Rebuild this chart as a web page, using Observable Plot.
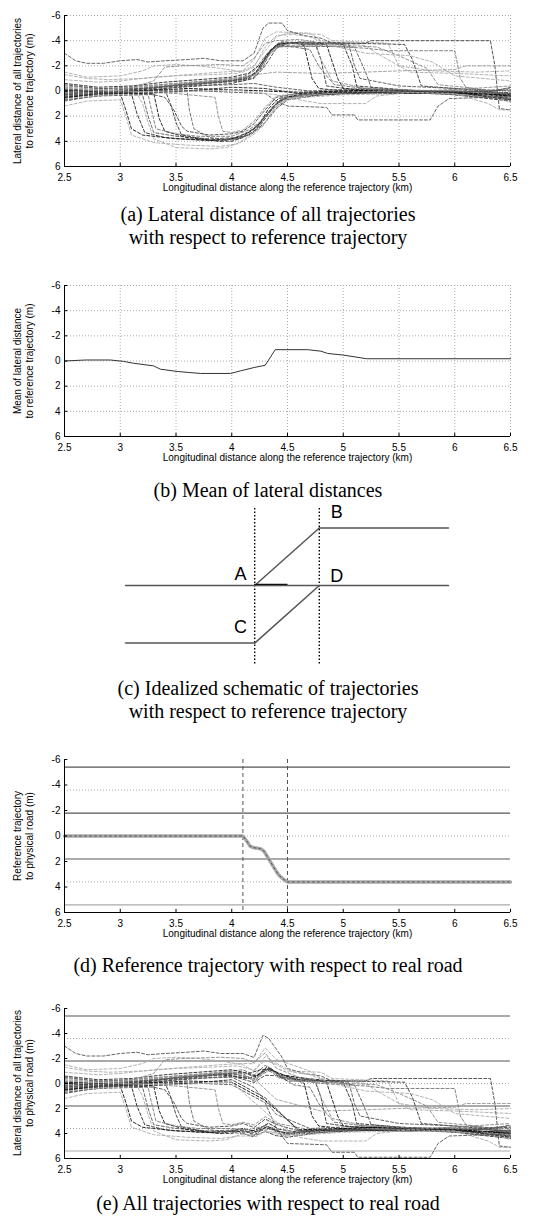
<!DOCTYPE html>
<html><head><meta charset="utf-8">
<script src="https://cdn.jsdelivr.net/npm/d3@7"></script>
<script src="https://cdn.jsdelivr.net/npm/@observablehq/plot@0.6"></script>
<style>
body{margin:0;background:#fff}
#root{position:relative;width:536px;height:1218px;overflow:hidden;background:#fff}
.cap{position:absolute;left:0;width:536px;text-align:center;font-family:"Liberation Serif","Times New Roman",serif;font-size:20px;line-height:23px;color:#000;white-space:nowrap}
.ylab{position:absolute;font-family:"Liberation Sans",Arial,sans-serif;font-size:10px;line-height:12px;text-align:center;white-space:nowrap;color:#000;transform:translate(-50%,-50%) rotate(-90deg)}
</style></head><body><div id="root"></div>
<script>
// ---------- axis data ----------
const xTicks = [2.5, 3, 3.5, 4, 4.5, 5, 5.5, 6, 6.5];
const yTicks = [-6, -4, -2, 0, 2, 4, 6];
const xLabel = "Longitudinal distance along the reference trajectory (km)";

// ---------- (a) lateral distance of trajectories to reference trajectory (km, m) ----------
const groupAB = [
  [[2.5,0.3],[2.7,0.1],[3.0,0.0],[3.3,-0.3],[3.6,-0.5],[3.9,-0.7],[4.15,-1.0],[4.25,-1.7],[4.33,-3.0],[4.4,-3.7],[4.6,-3.8],[4.65,-3.6],[4.72,-1.0],[4.78,-0.2],[5.0,0.0],[5.4,-0.1],[5.8,0.1],[6.2,0.2],[6.5,0.5]],
  [[2.5,-0.2],[2.8,0.0],[3.1,-0.1],[3.4,-0.4],[3.7,-0.6],[4.0,-0.8],[4.2,-1.3],[4.3,-2.5],[4.38,-3.5],[4.45,-3.8],[4.75,-3.7],[4.8,-2.5],[4.85,-0.4],[5.1,-0.1],[5.5,0.0],[6.0,0.2],[6.5,0.3]],
  [[2.5,0.6],[2.7,0.3],[3.0,0.1],[3.3,-0.2],[3.5,-0.5],[3.8,-0.7],[4.1,-0.9],[4.22,-1.5],[4.32,-3.0],[4.42,-3.8],[4.85,-3.7],[4.95,-1.0],[5.0,-0.2],[5.5,0.1],[6.0,0.0],[6.5,0.6]],
  [[2.5,0.0],[2.9,-0.2],[3.2,-0.4],[3.5,-0.6],[3.8,-0.8],[4.1,-1.1],[4.2,-1.6],[4.3,-2.8],[4.4,-3.6],[4.55,-3.5],[4.7,-3.3],[4.78,-2.0],[4.85,-1.2],[4.92,-0.5],[5.2,-0.2],[5.6,0.1],[6.0,0.2],[6.5,-0.2]],
  [[2.5,-0.6],[2.8,-0.3],[3.1,-0.4],[3.4,-0.7],[3.7,-0.9],[4.0,-1.1],[4.15,-1.4],[4.27,-2.2],[4.36,-3.3],[4.45,-3.9],[5.0,-3.7],[5.08,-2.0],[5.12,-0.4],[5.5,-0.1],[6.0,0.3],[6.5,0.8]],
  [[2.5,0.4],[2.8,0.2],[3.2,0.0],[3.5,-0.3],[3.8,-0.6],[4.1,-0.8],[4.2,-1.1],[4.28,-1.9],[4.35,-3.2],[4.42,-3.6],[5.1,-3.5],[5.2,-1.5],[5.25,-0.3],[5.7,0.0],[6.2,0.3],[6.5,0.1]],
  [[2.5,-1.3],[2.7,-1.0],[2.9,-0.9],[3.2,-1.0],[3.5,-1.2],[3.8,-1.3],[4.05,-1.4],[4.2,-2.0],[4.3,-3.2],[4.4,-4.3],[4.5,-4.6],[4.8,-4.5],[4.9,-4.0],[5.4,-3.8],[5.5,-2.0],[5.6,-1.5],[6.0,-1.4],[6.5,-1.2]],
  [[2.5,-0.9],[2.8,-0.7],[3.0,-0.8],[3.3,-1.1],[3.6,-1.3],[3.9,-1.5],[4.1,-1.6],[4.2,-2.5],[4.3,-4.2],[4.4,-4.7],[4.7,-4.6],[4.8,-4.0],[5.0,-3.8],[5.2,-3.6],[5.3,-3.0],[5.5,-2.0],[5.8,-1.6],[6.2,-1.5],[6.5,-1.6]],
  [[2.5,0.2],[2.8,0.0],[3.2,-0.2],[3.6,-0.5],[3.9,-0.8],[4.15,-1.0],[4.25,-1.8],[4.35,-3.3],[4.45,-3.7],[4.6,-3.9],[5.55,-3.7],[5.62,-2.5],[5.7,-0.4],[6.0,-0.2],[6.5,0.2]],
  [[2.5,0.8],[2.7,0.5],[3.0,0.2],[3.4,-0.2],[3.7,-0.4],[4.0,-0.6],[4.2,-1.0],[4.3,-2.0],[4.4,-3.4],[4.5,-3.8],[5.2,-3.8],[5.25,-4.0],[6.32,-4.0],[6.36,-2.0],[6.4,1.4],[6.5,1.5]],
  [[2.5,0.1],[2.9,0.0],[3.3,-0.3],[3.7,-0.6],[4.1,-0.9],[4.22,-1.4],[4.32,-2.8],[4.42,-3.5],[4.8,-3.6],[5.2,-3.4],[5.4,-3.2],[6.0,-3.2],[6.05,-1.0],[6.1,-0.3],[6.5,0.4]],
  [[2.5,-0.4],[2.8,-0.2],[3.2,-0.3],[3.6,-0.6],[4.0,-0.9],[4.2,-1.2],[4.3,-2.4],[4.4,-3.6],[4.55,-3.8],[5.3,-3.5],[5.5,-2.8],[5.75,-1.8],[5.85,-0.5],[6.2,-0.2],[6.5,0.3]]
];
const groupCD = [
  [[2.5,0.5],[2.8,0.3],[3.0,0.2],[3.05,1.5],[3.1,3.0],[3.2,3.5],[3.5,3.8],[3.8,3.9],[4.0,3.8],[4.15,3.3],[4.25,2.6],[4.33,1.4],[4.42,0.6],[4.6,0.3],[5.0,0.1],[5.5,0.0],[6.0,0.1],[6.5,0.6]],
  [[2.5,0.2],[2.9,0.1],[3.1,0.2],[3.15,1.8],[3.22,3.3],[3.4,3.7],[3.7,3.9],[4.0,4.0],[4.1,3.7],[4.2,3.2],[4.3,2.2],[4.38,1.2],[4.48,0.5],[4.8,0.2],[5.3,0.0],[5.8,0.1],[6.5,0.3]],
  [[2.5,0.7],[2.8,0.4],[3.2,0.3],[3.25,2.0],[3.3,3.3],[3.5,3.6],[3.8,3.8],[4.05,3.7],[4.2,3.0],[4.3,2.0],[4.4,1.0],[4.5,0.5],[5.0,0.2],[5.5,0.1],[6.0,0.3],[6.5,0.7]],
  [[2.5,-0.1],[2.8,0.0],[3.2,0.1],[3.3,0.2],[3.35,2.2],[3.4,3.2],[3.6,3.7],[3.9,4.0],[4.1,3.6],[4.22,2.9],[4.32,1.8],[4.42,0.8],[4.55,0.4],[5.0,0.1],[5.6,0.0],[6.2,0.2],[6.5,0.4]],
  [[2.5,0.3],[2.9,0.2],[3.25,0.3],[3.28,1.5],[3.32,3.0],[3.5,3.4],[3.7,3.6],[4.0,3.6],[4.15,3.1],[4.28,2.3],[4.36,1.3],[4.45,0.6],[4.7,0.3],[5.2,0.1],[5.8,0.2],[6.5,0.5]],
  [[2.5,0.0],[3.0,0.0],[3.4,-0.1],[3.45,1.0],[3.5,2.5],[3.55,3.5],[3.8,3.9],[4.05,3.8],[4.18,3.4],[4.3,2.5],[4.4,1.4],[4.5,0.7],[4.8,0.3],[5.4,0.1],[6.0,0.0],[6.5,0.2]],
  [[2.5,0.4],[3.0,0.2],[3.5,0.0],[3.6,0.0],[3.62,1.5],[3.66,3.0],[3.8,3.7],[4.0,3.9],[4.15,3.5],[4.25,2.8],[4.35,1.6],[4.45,0.8],[4.6,0.3],[5.2,0.1],[6.0,-0.1],[6.5,0.2]],
  [[2.5,0.6],[2.9,0.3],[3.15,0.2],[3.2,1.0],[3.25,2.5],[3.3,3.8],[3.5,4.5],[3.8,4.6],[3.95,4.5],[4.1,4.0],[4.22,3.3],[4.3,2.5],[4.38,1.4],[4.5,0.6],[5.0,0.3],[5.6,0.2],[6.2,0.1],[6.5,0.9]],
  [[2.5,1.2],[2.7,0.8],[3.0,0.7],[3.05,2.0],[3.1,3.5],[3.3,4.1],[3.6,4.3],[3.9,4.4],[4.05,4.2],[4.15,3.6],[4.28,2.8],[4.35,1.8],[4.45,0.9],[4.6,0.4],[5.0,0.1],[5.5,-0.1],[6.0,0.0],[6.5,0.5]],
  [[2.5,0.1],[3.0,0.1],[3.3,0.3],[3.4,0.5],[3.48,1.5],[3.55,2.8],[3.6,3.2],[3.8,3.5],[4.0,3.4],[4.1,3.2],[4.2,2.6],[4.3,1.5],[4.4,0.5],[4.6,0.2],[5.0,0.0],[5.6,0.2],[6.1,0.1],[6.5,-0.1]],
  [[2.5,-0.3],[3.0,0.0],[3.5,0.2],[3.85,0.5],[3.88,2.0],[3.92,3.2],[4.0,3.3],[4.1,3.1],[4.2,2.4],[4.3,1.3],[4.4,0.4],[4.7,0.1],[5.2,0.0],[5.9,0.2],[6.5,0.6]]
];
const groupAD = [
  [[2.5,0.0],[2.8,0.1],[3.2,0.0],[3.6,-0.2],[4.0,-0.1],[4.3,0.0],[4.6,0.1],[5.0,0.0],[5.4,-0.1],[5.8,0.0],[6.2,0.2],[6.5,0.4]],
  [[2.5,0.5],[2.8,0.2],[3.2,0.2],[3.6,0.0],[4.0,-0.3],[4.3,-0.2],[4.6,0.2],[5.0,0.1],[5.5,0.2],[6.0,0.1],[6.5,0.7]],
  [[2.5,-0.5],[2.8,-0.2],[3.2,-0.2],[3.6,-0.4],[4.0,-0.5],[4.2,-0.6],[4.4,-0.3],[4.7,0.0],[5.2,-0.2],[5.7,0.0],[6.3,0.1],[6.5,-0.3]]
];
const groupOther = [
  [[2.5,-3.0],[2.6,-2.4],[2.7,-2.2],[2.85,-2.2],[3.0,-2.4],[3.15,-2.5],[3.25,-2.3],[3.4,-2.4],[3.6,-2.5],[3.75,-2.6],[3.9,-2.4],[4.1,-2.4],[4.2,-3.0],[4.28,-5.0],[4.33,-5.4],[4.45,-5.4],[4.5,-4.8],[4.65,-4.4],[4.8,-4.2],[4.9,-3.8],[5.05,-3.7],[5.1,-2.0],[5.15,-1.0],[5.5,-0.4],[6.0,-0.2],[6.5,0.0]],
  [[2.5,-1.5],[2.7,-1.1],[3.0,-1.2],[3.2,-1.6],[3.3,-2.0],[3.5,-2.1],[3.7,-2.0],[3.9,-1.8],[4.1,-1.5],[4.2,-1.9],[4.3,-3.5],[4.4,-4.4],[4.55,-4.5],[4.7,-4.3],[4.9,-3.6],[5.2,-3.0],[5.6,-2.8],[5.8,-2.3],[6.0,-1.2],[6.5,-0.8]],
  [[2.5,0.3],[3.0,0.1],[3.5,-0.1],[4.0,0.1],[4.3,0.2],[4.4,0.8],[4.5,1.2],[4.85,1.3],[4.9,1.9],[5.1,1.9],[5.13,2.3],[5.78,2.3],[5.85,1.2],[5.95,0.6],[6.3,0.5],[6.5,0.4]],
  [[2.5,-0.2],[3.0,0.0],[3.5,0.1],[4.0,-0.1],[4.4,0.3],[4.6,0.7],[4.8,1.0],[5.2,1.0],[5.3,0.4],[5.6,0.1],[6.0,0.2],[6.3,1.0],[6.4,1.5],[6.5,1.5]],
  [[2.5,0.1],[3.0,-0.2],[3.5,-0.6],[4.0,-1.0],[4.2,-1.3],[4.4,-1.5],[4.8,-1.4],[5.2,-1.5],[5.5,-1.6],[6.0,-1.7],[6.1,-2.0],[6.5,-2.0]],
  [[2.5,0.2],[3.0,0.0],[3.3,-0.8],[3.4,-1.9],[3.55,-2.0],[3.9,-2.1],[4.1,-2.0],[4.2,-2.6],[4.3,-3.8],[4.4,-4.0],[4.6,-4.1],[4.75,-3.9],[4.8,-2.5],[4.9,-0.8],[5.2,-0.2],[5.8,0.0],[6.5,-0.4]]
];
// grey shade of each trajectory (style, same order as the groups)
const shadeAB = ["#111","#333","#111","#666","#222","#555","#aaa","#aaa","#333","#444","#777","#888"];
const shadeCD = ["#111","#222","#555","#111","#777","#333","#666","#aaa","#aaa","#444","#888"];
const shadeAD = ["#000","#222","#555"];
const shadeOther = ["#555","#aaa","#555","#aaa","#999","#888"];

// ---------- (b) mean of lateral distances ----------
const meanX = [2.5,2.69,2.91,3.03,3.12,3.3,3.36,3.51,3.6,3.72,3.99,4.08,4.2,4.3,4.39,4.68,4.8,4.86,5.0,5.21,6.5];
const meanY = [0,-0.08,-0.08,0.03,0.18,0.39,0.65,0.83,0.9,0.99,0.99,0.78,0.52,0.34,-0.9,-0.9,-0.78,-0.6,-0.47,-0.18,-0.18];

// ---------- (d) reference trajectory w.r.t. physical road ----------
const refX = [2.5,4.1,4.135,4.165,4.2,4.26,4.29,4.335,4.38,4.42,4.465,4.5,6.5];
const refY = [0,0,0.4,0.8,0.92,1.0,1.2,1.85,2.5,3.05,3.4,3.6,3.6];
const transitionKm = [4.1, 4.5];
const laneEdges = [-5.4, -1.8, 1.8, 5.4];
const laneCenters = [-3.6, 0, 3.6];

// ---------- (c) idealized schematic (abstract units: x position, lane offset) ----------
const schemLines = [
  [[3,1],[5,1]],        // B lane after change
  [[0,0],[5,0]],        // A / D lane
  [[0,-1],[2,-1]],      // C lane before change
  [[2,0],[3,1]],        // A -> B
  [[2,-1],[3,0]]        // C -> D
];
const schemStep = [[2,0.02],[2.5,0.02]];
const schemBounds = [2, 3];
const schemLabels = ["A","B","C","D"];
const schemLabelX = [1.78, 3.27, 1.78, 3.27];
const schemLabelY = [0.2, 1.28, -0.73, 0.17];

// ---------- captions ----------
const captions = [
  {top: 202.5, text: "(a) Lateral distance of all trajectories<br>with respect to reference trajectory"},
  {top: 478.5, text: "(b) Mean of lateral distances"},
  {top: 676.5, text: "(c) Idealized schematic of trajectories<br>with respect to reference trajectory"},
  {top: 953.5, text: "(d) Reference trajectory with respect to real road"},
  {top: 1191.5, text: "(e) All trajectories with respect to real road"}
];

// ================= drawing =================
const FONT = "Liberation Sans, Arial, sans-serif";
const root = document.getElementById("root");
const refPts = refX.map((x, i) => ({x, y: refY[i]}));
function refAt(x) {
  for (let i = 1; i < refX.length; i++) {
    if (x <= refX[i]) {
      const t = (x - refX[i-1]) / (refX[i] - refX[i-1]);
      return refY[i-1] + t * (refY[i] - refY[i-1]);
    }
  }
  return refY[refY.length - 1];
}
const allTraj = [...groupAB, ...groupCD, ...groupAD, ...groupOther];
const allShade = [...shadeAB, ...shadeCD, ...shadeAD, ...shadeOther];

function axisMarks() {
  return [
    Plot.ruleY([6], {stroke: "#000"}),
    Plot.ruleX([2.5], {stroke: "#000"}),
    Plot.ruleX(xTicks, {x: d => d, y1: 6, y2: 5.75, stroke: "#000"}),
    Plot.ruleY(yTicks, {y: d => d, x1: 2.5, x2: 2.53, stroke: "#000"}),
    Plot.text(xTicks, {x: d => d, y: 6, dy: 11, text: d => String(d), fill: "#000"}),
    Plot.text(yTicks, {x: 2.5, y: d => d, dx: -4, textAnchor: "end", text: d => String(d), fill: "#000"}),
    Plot.text([xLabel], {frameAnchor: "bottom", dy: 24, fill: "#000"})
  ];
}
function gridMarks() {
  return [
    Plot.ruleX(xTicks, {x: d => d, stroke: "#aaa", strokeDasharray: "1,2"}),
    Plot.ruleY(yTicks, {y: d => d, stroke: "#aaa", strokeDasharray: "1,2"})
  ];
}
function roadMarks() {
  return [
    Plot.ruleY(laneCenters, {y: d => d, stroke: "#aaa", strokeDasharray: "1,2"}),
    Plot.ruleY(laneEdges, {y: d => d, stroke: d => d > 0 ? "#aaa" : "#555", strokeWidth: d => d === 1.8 ? 2 : 1.2})
  ];
}
function trajMarks(list, shades) {
  return list.map((t, i) => Plot.line(t, {x: d => d[0], y: d => d[1], stroke: shades[i], strokeWidth: 0.9, strokeDasharray: "3,2"}));
}
function panel(top, bottom, marks, yLab) {
  const mt = 10, mb = 40;
  const svg = Plot.plot({
    width: 536, height: bottom - top + mt + mb,
    marginTop: mt, marginBottom: mb, marginLeft: 64, marginRight: 26,
    style: {fontFamily: FONT, fontSize: "10px", background: "transparent", color: "#000", overflow: "visible"},
    x: {domain: [2.5, 6.5], axis: null},
    y: {domain: [6, -6], axis: null},
    marks: [...marks, ...axisMarks()]
  });
  svg.style.position = "absolute"; svg.style.left = "0px"; svg.style.top = (top - mt) + "px";
  root.appendChild(svg);
  const yl = document.createElement("div");
  yl.className = "ylab"; yl.innerHTML = yLab.join("<br>");
  yl.style.left = "24px"; yl.style.top = ((top + bottom) / 2) + "px";
  root.appendChild(yl);
}

// (a)
panel(15, 166, [...gridMarks(), ...trajMarks(allTraj, allShade)],
  ["Lateral distance of all trajectories", "to reference trajectory (m)"]);
// (b)
panel(285, 436, [...gridMarks(), Plot.line(meanX.map((x, i) => ({x, y: meanY[i]})), {x: "x", y: "y", stroke: "#333", strokeWidth: 1})],
  ["Mean of lateral distance", "to reference trajectory (m)"]);
// (c)
{
  const mt = 10, mb = 10, top = 508, bottom = 665;
  const svg = Plot.plot({
    width: 536, height: bottom - top + mt + mb, marginTop: mt, marginBottom: mb, marginLeft: 125, marginRight: 88,
    style: {fontFamily: FONT, background: "transparent", overflow: "visible"},
    x: {domain: [0, 5], axis: null}, y: {domain: [-1.39, 1.34], axis: null},
    marks: [
      Plot.ruleX(schemBounds, {x: d => d, stroke: "#000", strokeWidth: 1.4, strokeDasharray: "1.5,2"}),
      ...schemLines.map(l => Plot.line(l, {x: d => d[0], y: d => d[1], stroke: "#555", strokeWidth: 1.5})),
      Plot.line(schemStep, {x: d => d[0], y: d => d[1], stroke: "#111", strokeWidth: 1.2}),
      Plot.text(schemLabels, {x: (d, i) => schemLabelX[i], y: (d, i) => schemLabelY[i], text: d => d, fontSize: 18, fill: "#000"})
    ]
  });
  svg.style.position = "absolute"; svg.style.left = "0px"; svg.style.top = (top - mt) + "px";
  root.appendChild(svg);
}
// (d)
panel(759, 912, [
  ...roadMarks(),
  Plot.ruleX(transitionKm, {x: d => d, stroke: "#555", strokeDasharray: "4,3"}),
  Plot.line(refPts, {x: "x", y: "y", stroke: "#a8a8a8", strokeWidth: 3.5, strokeDasharray: "1.5,1"}),
  Plot.line(refPts, {x: "x", y: "y", stroke: "#444", strokeWidth: 0.8, strokeDasharray: "2,3"})
], ["Reference trajectory", "to physical road (m)"]);
// (e) trajectories re-referenced to the physical road: (a) offset + reference offset (d)
const roadTraj = allTraj.map(t => t.map(([x, y]) => [x, y + refAt(x)]));
panel(1008, 1158, [...roadMarks(), ...trajMarks(roadTraj, allShade)],
  ["Lateral distance of all trajectories", "to physical road (m)"]);

// captions
for (const c of captions) {
  const d = document.createElement("div");
  d.className = "cap"; d.style.top = c.top + "px"; d.innerHTML = c.text;
  root.appendChild(d);
}
</script></body></html>
